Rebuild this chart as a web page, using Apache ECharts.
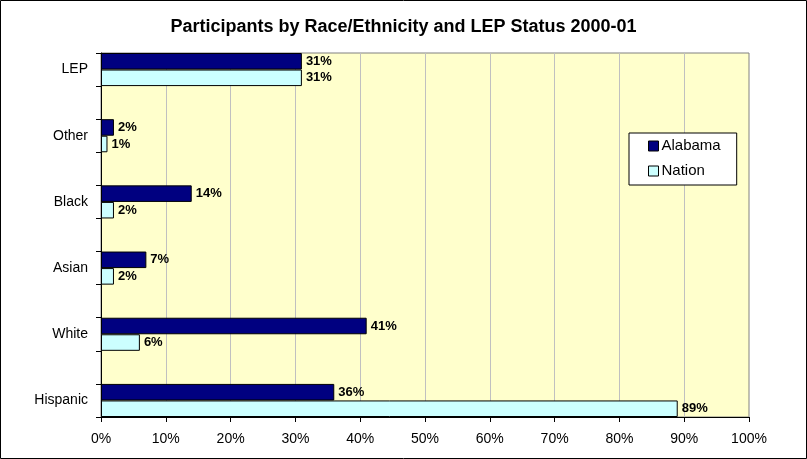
<!DOCTYPE html>
<html>
<head>
<meta charset="utf-8">
<script src="https://cdn.jsdelivr.net/npm/echarts@6/dist/echarts.min.js"></script>
<style>
html,body{margin:0;padding:0;background:#fff;}
#chart{width:807px;height:459px;}
</style>
</head>
<body>
<div id="chart"></div>
<script>
// Categories top to bottom
const categories = ['LEP', 'Other', 'Black', 'Asian', 'White', 'Hispanic'];
const alabamaValues = [31, 2, 14, 7, 41, 36];
const nationValues = [31, 1, 2, 2, 6, 89];
const xTickValues = [0, 10, 20, 30, 40, 50, 60, 70, 80, 90, 100];

// Interleave blank spacer categories (as in the original chart)
const axisCats = [], alaData = [], natData = [];
categories.forEach((c, i) => {
  if (i > 0) { axisCats.push(''); alaData.push('-'); natData.push('-'); }
  axisCats.push(c); alaData.push(alabamaValues[i]); natData.push(nationValues[i]);
});

const FONT = '"Liberation Sans", Arial, sans-serif';
const chart = echarts.init(document.getElementById('chart'), null, {renderer: 'canvas'});
const labelCfg = {
  show: true, position: 'right', distance: 4,
  formatter: p => p.value + '%',
  color: '#000', fontFamily: FONT, fontWeight: 'bold', fontSize: 13
};
chart.setOption({
  animation: false,
  backgroundColor: '#fff',
  title: {
    text: 'Participants by Race/Ethnicity and LEP Status 2000-01',
    left: 'center', top: 13,
    textStyle: {fontFamily: FONT, fontWeight: 'bold', fontSize: 18, color: '#000'}
  },
  graphic: [{
    type: 'rect', shape: {x: 0.5, y: 0.5, width: 806, height: 458},
    style: {fill: null, stroke: '#000', lineWidth: 1}, silent: true, z: 100
  }],
  legend: {
    orient: 'vertical', left: 629, top: 133,
    backgroundColor: '#fff', borderColor: '#000', borderWidth: 1,
    padding: [5, 16, 6, 19], itemGap: 9,
    itemWidth: 10, itemHeight: 10, icon: 'rect',
    itemStyle: {borderColor: '#000', borderWidth: 1},
    textStyle: {fontFamily: FONT, fontSize: 15, lineHeight: 16, color: '#000', padding: [0, 0, 0, -2]},
    data: ['Alabama', 'Nation']
  },
  grid: {
    left: 101, right: 58, top: 53, bottom: 42,
    show: true, backgroundColor: '#FFFFCC', borderColor: '#808080', borderWidth: 1
  },
  xAxis: {
    type: 'value', min: 0, max: 100, interval: 10,
    axisLine: {show: true, lineStyle: {color: '#000'}},
    axisTick: {show: true, length: 5, lineStyle: {color: '#000'}},
    axisLabel: {
      margin: 15, fontFamily: FONT, fontSize: 14, color: '#000',
      formatter: v => (xTickValues.includes(v) ? v + '%' : '')
    },
    splitLine: {show: true, lineStyle: {color: '#C0C0C0', width: 1}}
  },
  yAxis: {
    type: 'category', inverse: true, data: axisCats,
    axisLine: {show: true, onZero: false, lineStyle: {color: '#000'}},
    axisTick: {show: true, length: 5, interval: 0, alignWithLabel: false, lineStyle: {color: '#000'}},
    axisLabel: {interval: 0, margin: 13, fontFamily: FONT, fontSize: 14, color: '#000'},
    splitLine: {show: false}
  },
  series: [
    {
      name: 'Alabama', type: 'bar', data: alaData,
      barGap: '0%', barCategoryGap: '0%',
      itemStyle: {color: '#000080', borderColor: '#000', borderWidth: 1},
      label: labelCfg
    },
    {
      name: 'Nation', type: 'bar', data: natData,
      barGap: '0%', barCategoryGap: '0%',
      itemStyle: {color: '#CCFFFF', borderColor: '#000', borderWidth: 1},
      label: labelCfg
    }
  ]
});
</script>
</body>
</html>
